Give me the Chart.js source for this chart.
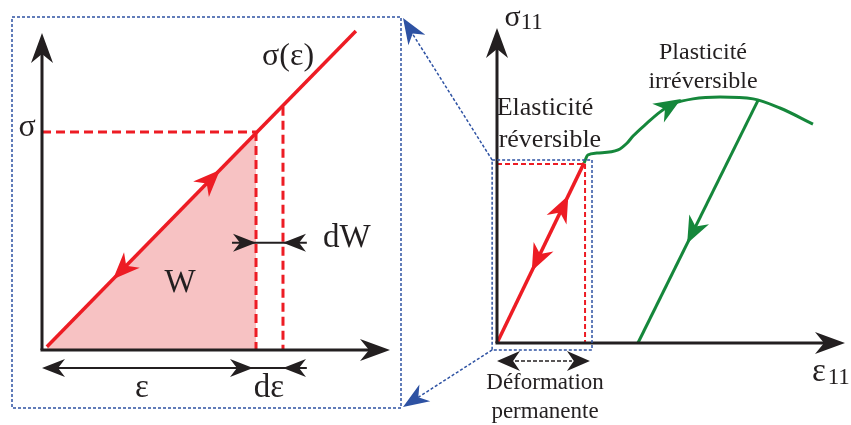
<!DOCTYPE html>
<html>
<head>
<meta charset="utf-8">
<script src="https://cdn.jsdelivr.net/npm/chart.js@4.4.0/dist/chart.umd.min.js"></script>
<style>
    html, body { margin: 0; padding: 0; background: #fff; }
    #wrap { position: relative; width: 851px; height: 425px; }
    #right { position: absolute; left: 0; top: 0; }
    #left { position: absolute; left: 11px; top: 16px; }
</style>
</head>
<body>
<div id="wrap">
    <canvas id="right" width="851" height="425"></canvas>
    <canvas id="left" width="391" height="393"></canvas>
</div>
<script>
// ---- left panel : sigma(epsilon), elastic energy W ----
var leftLine = [{x: 0.014, y: 0.01}, {x: 0.902, y: 1.006}];
var workArea = [{x: 0.014, y: 0.01}, {x: 0.615, y: 0.688}];
var epsValue = 0.615, sigValue = 0.688;
var epsPlus = 0.6925, sigPlus = 0.767;
var leftArrowsT = [0.56, 0.214];          // up, down (fraction along leftLine)

// ---- right panel : sigma11(epsilon11) ----
var elasticLine = [{x: 0, y: 0}, {x: 0.25, y: 0.571}];
var plasticCurve = [
    {x: 0.25, y: 0.571}, {x: 0.261, y: 0.597}, {x: 0.287, y: 0.603}, {x: 0.348, y: 0.613},
    {x: 0.374, y: 0.635}, {x: 0.391, y: 0.657}, {x: 0.431, y: 0.698}, {x: 0.468, y: 0.733},
    {x: 0.506, y: 0.759}, {x: 0.563, y: 0.775}, {x: 0.641, y: 0.781}, {x: 0.736, y: 0.775},
    {x: 0.813, y: 0.746}, {x: 0.908, y: 0.695}
];
var unloadLine = [{x: 0.75, y: 0.77}, {x: 0.405, y: 0}];
var yieldPoint = {x: 0.253, y: 0.568};
var zoomBox = {x0: -0.014, x1: 0.273, y0: -0.022, y1: 0.581};
var permStrain = 0.267;

var RED = '#ed1c24', GREEN = '#15873b', BLUE = '#2e52a3', INK = '#231f20', PINK = '#f7c2c3';
var FONT = '"Liberation Serif", "Times New Roman", serif';

function head(ctx, tx, ty, ang, len, hw, color) {
    var dx = Math.cos(ang), dy = Math.sin(ang);
    var px = -dy, py = dx;
    ctx.save();
    ctx.fillStyle = color;
    ctx.beginPath();
    ctx.moveTo(tx, ty);
    ctx.lineTo(tx - len * dx + hw * px, ty - len * dy + hw * py);
    ctx.lineTo(tx - 0.7 * len * dx, ty - 0.7 * len * dy);
    ctx.lineTo(tx - len * dx - hw * px, ty - len * dy - hw * py);
    ctx.closePath();
    ctx.fill();
    ctx.restore();
}

function seg(ctx, x1, y1, x2, y2, color, w, dash) {
    ctx.save();
    ctx.strokeStyle = color;
    ctx.lineWidth = w;
    ctx.setLineDash(dash || []);
    ctx.beginPath();
    ctx.moveTo(x1, y1);
    ctx.lineTo(x2, y2);
    ctx.stroke();
    ctx.restore();
}

function txt(ctx, s, x, y, size) {
    ctx.save();
    ctx.fillStyle = INK;
    ctx.font = size + 'px ' + FONT;
    ctx.textAlign = 'center';
    ctx.textBaseline = 'middle';
    ctx.fillText(s, x, y);
    ctx.restore();
}

// arrowhead sitting on a line at fraction t, pointing forward or back
function lineHead(ctx, sx, sy, a, b, t, back, color) {
    var x1 = sx.getPixelForValue(a.x), y1 = sy.getPixelForValue(a.y);
    var x2 = sx.getPixelForValue(b.x), y2 = sy.getPixelForValue(b.y);
    var ang = Math.atan2(y2 - y1, x2 - x1);
    if (back) ang += Math.PI;
    head(ctx, x1 + t * (x2 - x1), y1 + t * (y2 - y1), ang, 27, 11, color);
}

function axes(ctx, area) {
    seg(ctx, area.left, area.bottom, area.left, area.top + 20, INK, 3);
    seg(ctx, area.left - 1.5, area.bottom, area.right - 20, area.bottom, INK, 3);
    head(ctx, area.left, area.top, -Math.PI / 2, 30, 11, INK);
    head(ctx, area.right, area.bottom, 0, 30, 11, INK);
}

var leftDeco = {
    id: 'leftDeco',
    afterDatasetsDraw: function (chart) {
        var ctx = chart.ctx, a = chart.chartArea;
        var sx = chart.scales.x, sy = chart.scales.y;
        var X = function (v) { return sx.getPixelForValue(v); };
        var Y = function (v) { return sy.getPixelForValue(v); };

        // dashed frame of the zoom
        ctx.save();
        ctx.strokeStyle = BLUE;
        ctx.lineWidth = 1.5;
        ctx.setLineDash([3, 2]);
        ctx.strokeRect(1, 1, chart.width - 2, chart.height - 2);
        ctx.restore();

        // red dashed guides
        seg(ctx, X(0), Y(sigValue), X(epsValue), Y(sigValue), RED, 3, [9, 5]);
        seg(ctx, X(epsValue), Y(sigValue), X(epsValue), Y(0), RED, 3, [9, 5]);
        seg(ctx, X(epsPlus), Y(sigPlus), X(epsPlus), Y(0), RED, 3, [9, 5]);

        axes(ctx, a);

        lineHead(ctx, sx, sy, leftLine[0], leftLine[1], leftArrowsT[0], false, RED);
        lineHead(ctx, sx, sy, leftLine[0], leftLine[1], leftArrowsT[1], true, RED);

        // dW
        var yw = Y(0.338);
        seg(ctx, X(0.546), yw, X(0.761), yw, INK, 2);
        head(ctx, X(epsValue), yw, 0, 23, 9, INK);
        head(ctx, X(epsPlus), yw, Math.PI, 23, 9, INK);

        // epsilon and d epsilon
        var ye = Y(-0.057);
        seg(ctx, X(0) + 5, ye, X(0.761), ye, INK, 2);
        head(ctx, X(0), ye, Math.PI, 23, 9, INK);
        head(ctx, X(epsValue) - 3, ye, 0, 23, 9, INK);
        head(ctx, X(epsPlus), ye, Math.PI, 23, 9, INK);

        txt(ctx, 'σ(ε)', X(0.707), Y(0.924), 32);
        txt(ctx, 'σ', X(-0.043), Y(0.703), 32);
        txt(ctx, 'W', X(0.397), Y(0.21), 33);
        txt(ctx, 'dW', X(0.876), Y(0.353), 33);
        txt(ctx, 'ε', X(0.287), Y(-0.12), 33);
        txt(ctx, 'dε', X(0.652), Y(-0.12), 33);
    }
};

var rightDeco = {
    id: 'rightDeco',
    afterDatasetsDraw: function (chart) {
        var ctx = chart.ctx, a = chart.chartArea;
        var sx = chart.scales.x, sy = chart.scales.y;
        var X = function (v) { return sx.getPixelForValue(v); };
        var Y = function (v) { return sy.getPixelForValue(v); };

        // red dashed guides at the yield point
        seg(ctx, X(0), Y(yieldPoint.y), X(yieldPoint.x), Y(yieldPoint.y), RED, 2, [5, 3]);
        seg(ctx, X(yieldPoint.x), Y(yieldPoint.y), X(yieldPoint.x), Y(0), RED, 2, [5, 3]);

        axes(ctx, a);

        // blue zoom box + connectors to the left frame
        ctx.save();
        ctx.strokeStyle = BLUE;
        ctx.lineWidth = 1.5;
        ctx.setLineDash([3, 2]);
        ctx.strokeRect(X(zoomBox.x0), Y(zoomBox.y1), X(zoomBox.x1) - X(zoomBox.x0), Y(zoomBox.y0) - Y(zoomBox.y1));
        ctx.restore();
        var lc = document.getElementById('left');
        var fr = lc.offsetLeft + lc.width, ft = lc.offsetTop + 1, fb = lc.offsetTop + lc.height - 1;
        var bx = X(zoomBox.x0), bt = Y(zoomBox.y1), bb = Y(zoomBox.y0);
        seg(ctx, bx, bt, fr + 10, ft + 16, BLUE, 1.5, [3, 2]);
        seg(ctx, bx, bb, fr + 12, fb - 8, BLUE, 1.5, [3, 2]);
        head(ctx, fr + 1, ft + 1, Math.atan2(ft - bt, fr - bx), 26, 10, BLUE);
        head(ctx, fr + 1, fb - 1, Math.atan2(fb - bb, fr - bx), 26, 10, BLUE);

        lineHead(ctx, sx, sy, elasticLine[0], elasticLine[1], 0.82, false, RED);
        lineHead(ctx, sx, sy, elasticLine[0], elasticLine[1], 0.40, true, RED);
        lineHead(ctx, sx, sy, unloadLine[0], unloadLine[1], 0.59, false, GREEN);
        lineHead(ctx, sx, sy, plasticCurve[7], plasticCurve[8], 1.6, false, GREEN);

        // permanent strain
        var yp = Y(-0.057);
        seg(ctx, X(0) + 18, yp, X(permStrain) - 18, yp, INK, 1.5, [4, 2]);
        head(ctx, X(0), yp, Math.PI, 23, 10, INK);
        head(ctx, X(permStrain), yp, 0, 23, 10, INK);

        txt(ctx, 'Elasticité', X(0.138), Y(0.746), 26);
        txt(ctx, 'réversible', X(0.152), Y(0.644), 26);
        txt(ctx, 'Plasticité', X(0.592), Y(0.921), 24);
        txt(ctx, 'irréversible', X(0.592), Y(0.829), 24);
        txt(ctx, 'Déformation', X(0.138), Y(-0.127), 23);
        txt(ctx, 'permanente', X(0.138), Y(-0.219), 23);

        txt(ctx, 'σ', X(0.045), Y(1.032), 30);
        txt(ctx, '11', X(0.1), Y(1.015), 23);
        txt(ctx, 'ε', X(0.925), Y(-0.092), 33);
        txt(ctx, '11', X(0.982), Y(-0.111), 23);
    }
};

function hiddenScales() {
    return {
        x: { type: 'linear', min: 0, max: 1, display: false },
        y: { type: 'linear', min: 0, max: 1, display: false }
    };
}

var leftChart = new Chart(document.getElementById('left'), {
    type: 'scatter',
    data: {
        datasets: [{
            data: leftLine, showLine: true, borderColor: RED, borderWidth: 3.5,
            pointRadius: 0, order: 1
        }, {
            data: workArea, showLine: true, borderWidth: 0, borderColor: 'rgba(0,0,0,0)',
            backgroundColor: PINK, fill: 'origin', pointRadius: 0, order: 5
        }]
    },
    options: {
        responsive: false, animation: false,
        layout: { padding: { left: 31, right: 12, top: 17, bottom: 59 } },
        scales: hiddenScales(),
        clip: false,
        plugins: { legend: { display: false }, tooltip: { enabled: false } }
    },
    plugins: [leftDeco]
});

var rightChart = new Chart(document.getElementById('right'), {
    type: 'scatter',
    data: {
        datasets: [{
            data: elasticLine, showLine: true, borderColor: RED, borderWidth: 3.5, pointRadius: 0
        }, {
            data: plasticCurve, showLine: true, borderColor: GREEN, borderWidth: 3, pointRadius: 0,
            cubicInterpolationMode: 'monotone'
        }, {
            data: unloadLine, showLine: true, borderColor: GREEN, borderWidth: 3, pointRadius: 0
        }]
    },
    options: {
        responsive: false, animation: false,
        layout: { padding: { left: 497, right: 6, top: 28, bottom: 82 } },
        scales: hiddenScales(),
        clip: false,
        plugins: { legend: { display: false }, tooltip: { enabled: false } }
    },
    plugins: [rightDeco]
});
</script>
</body>
</html>
